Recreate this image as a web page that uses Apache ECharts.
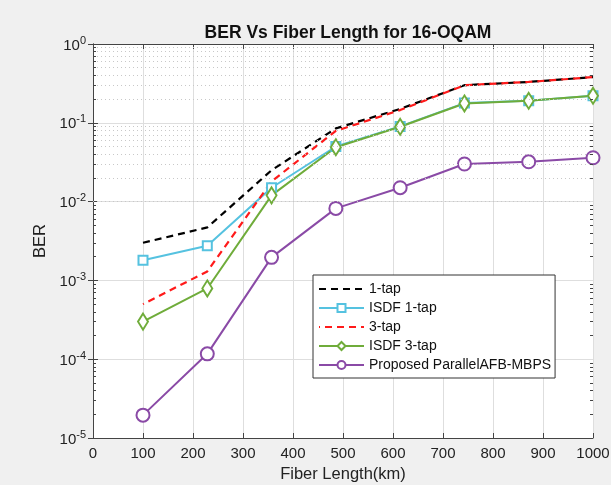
<!DOCTYPE html>
<html>
<head>
<meta charset="utf-8">
<script src="https://cdn.jsdelivr.net/npm/echarts@6/dist/echarts.min.js"></script>
<style>
  html, body { margin: 0; padding: 0; background: #f0f0f0; }
  #chart { width: 611px; height: 485px; }
</style>
</head>
<body>
<div id="chart"></div>
<script>
// fiber length (km) where each point was measured
var xVals = [100, 228.6, 357.1, 485.7, 614.3, 742.9, 871.4, 1000];
var xTicks = [0, 100, 200, 300, 400, 500, 600, 700, 800, 900, 1000];
var yTicks = [1e-5, 1e-4, 1e-3, 1e-2, 1e-1, 1];

// BER
var tap1     = [3.0e-3, 4.7e-3, 0.025, 0.085, 0.15, 0.30, 0.33, 0.38];
var isdf1    = [1.8e-3, 2.75e-3, 0.015, 0.050, 0.090, 0.178, 0.19, 0.22];
var tap3     = [5.0e-4, 1.3e-3, 0.018, 0.079, 0.145, 0.30, 0.33, 0.38];
var isdf3    = [3.0e-4, 7.9e-4, 0.012, 0.049, 0.089, 0.176, 0.19, 0.22];
var proposed = [1.95e-5, 1.17e-4, 1.96e-3, 0.0082, 0.015, 0.030, 0.032, 0.036];

function pairs(ys) {
  return xVals.map(function (x, i) { return [x, ys[i]]; });
}

// minor grid (2..9 of every decade) + little ticks on both sides
var minorLines = [], minorTicks = [];
for (var k = 0; k < yTicks.length - 1; k++) {
  for (var m = 2; m <= 9; m++) {
    var v = m * yTicks[k];
    minorLines.push({ yAxis: v });
    minorTicks.push([{ coord: [0, v] }, { coord: [6, v] }]);
    minorTicks.push([{ coord: [994, v] }, { coord: [1000, v] }]);
  }
}

var frame = '#444';
var font = 'Liberation Sans, Arial, sans-serif';
var chart = echarts.init(document.getElementById('chart'));
var option = {
  backgroundColor: '#f0f0f0',
  animation: false,
  textStyle: { fontFamily: font },
  title: {
    text: 'BER Vs Fiber Length for 16-OQAM',
    left: 343, top: 19, textAlign: 'center',
    textStyle: { fontSize: 17.5, fontWeight: 'bold', color: '#111', fontFamily: font }
  },
  grid: {
    left: 93, right: 18, top: 44, bottom: 47,
    outerBoundsMode: 'none', containLabel: false,
    show: true, backgroundColor: '#fff', borderWidth: 0
  },
  legend: {
    orient: 'vertical',
    left: 313, top: 275,
    backgroundColor: '#fff',
    borderColor: '#333', borderWidth: 1,
    padding: [7, 4, 6, 5],
    itemWidth: 45, itemHeight: 10, itemGap: 5,
    textStyle: { fontSize: 14, color: '#111', fontFamily: font },
    data: [
      { name: '1-tap', itemStyle: { opacity: 0 } },
      'ISDF 1-tap',
      { name: '3-tap', itemStyle: { opacity: 0 } },
      'ISDF 3-tap',
      'Proposed ParallelAFB-MBPS'
    ]
  },
  xAxis: [{
    type: 'value',
    min: xTicks[0], max: xTicks[xTicks.length - 1], interval: 100,
    name: 'Fiber Length(km)', nameLocation: 'middle', nameGap: 27,
    nameTextStyle: { fontSize: 16.5, color: '#222' },
    axisLine: { show: true, lineStyle: { color: frame } },
    axisTick: { inside: true, length: 5, lineStyle: { color: frame } },
    axisLabel: { fontSize: 15, color: '#222', margin: 8, formatter: function (v) { return String(v); } },
    splitLine: { show: true, lineStyle: { color: '#dedede' } }
  }, {
    type: 'value', position: 'top',
    min: xTicks[0], max: xTicks[xTicks.length - 1], interval: 100,
    axisLine: { show: true, lineStyle: { color: frame } },
    axisTick: { inside: true, length: 5, lineStyle: { color: frame } },
    axisLabel: { show: false },
    splitLine: { show: false }
  }],
  yAxis: [{
    type: 'log', logBase: 10,
    min: yTicks[0], max: yTicks[yTicks.length - 1],
    name: 'BER', nameLocation: 'middle', nameGap: 38,
    nameTextStyle: { fontSize: 16.5, color: '#222' },
    axisLine: { show: true, lineStyle: { color: frame } },
    axisTick: { inside: true, length: 5, lineStyle: { color: frame } },
    axisLabel: {
      margin: 7,
      formatter: function (v) {
        return '{b|10}{s|' + Math.round(Math.log10(v)) + '}';
      },
      rich: {
        b: { fontSize: 15, color: '#222', verticalAlign: 'bottom', lineHeight: 18, padding: [6, 0, 0, 0] },
        s: { fontSize: 11, color: '#222', verticalAlign: 'top', lineHeight: 11 }
      }
    },
    splitLine: { show: true, lineStyle: { color: '#dedede' } }
  }, {
    type: 'log', logBase: 10, position: 'right',
    min: yTicks[0], max: yTicks[yTicks.length - 1],
    axisLine: { show: true, lineStyle: { color: frame } },
    axisTick: { inside: true, length: 5, lineStyle: { color: frame } },
    axisLabel: { show: false },
    splitLine: { show: false }
  }],
  series: [{
    name: 'minor', type: 'line', data: [], silent: true, z: 1,
    markLine: {
      silent: true, symbol: 'none', label: { show: false },
      lineStyle: { color: '#c8c8c8', type: [1, 3], width: 1 },
      data: minorLines
    }
  }, {
    name: 'minorTicks', type: 'line', data: [], silent: true, z: 1,
    markLine: {
      silent: true, symbol: 'none', label: { show: false },
      lineStyle: { color: frame, type: 'solid', width: 1 },
      data: minorTicks
    }
  }, {
    name: '1-tap', type: 'line', data: pairs(tap1),
    symbol: 'none', color: '#000',
    lineStyle: { color: '#000', width: 2.2, type: [7, 5] }
  }, {
    name: 'ISDF 1-tap', type: 'line', data: pairs(isdf1),
    symbol: 'emptyRect', symbolSize: 9, color: '#55c2e0',
    lineStyle: { color: '#55c2e0', width: 2 },
    itemStyle: { borderWidth: 2 }
  }, {
    name: '3-tap', type: 'line', data: pairs(tap3),
    symbol: 'none', color: '#ff1a1a',
    lineStyle: { color: '#ff1a1a', width: 2.2, type: [7, 5], dashOffset: 6 }
  }, {
    name: 'ISDF 3-tap', type: 'line', data: pairs(isdf3),
    symbol: 'emptyDiamond', symbolSize: [10, 16], color: '#6fac3a',
    lineStyle: { color: '#6fac3a', width: 2 },
    itemStyle: { borderWidth: 2 }
  }, {
    name: 'Proposed ParallelAFB-MBPS', type: 'line', data: pairs(proposed),
    symbol: 'emptyCircle', symbolSize: 13, color: '#8a4aa6',
    lineStyle: { color: '#8a4aa6', width: 2 },
    itemStyle: { borderWidth: 2 }
  }]
};
chart.setOption(option);
</script>
</body>
</html>
